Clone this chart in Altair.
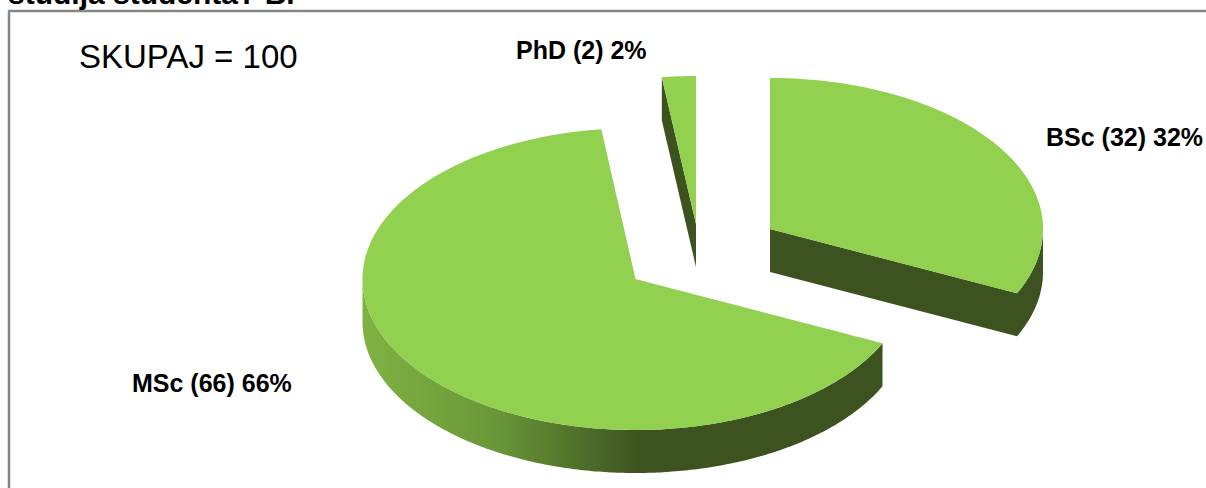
import altair as alt
import numpy as np
import pandas as pd

# Survey results: level of study
levels = ["BSc", "MSc", "PhD"]
counts = [32, 66, 2]
total_label = "SKUPAJ = 100"
heading = "studija studenta? B."

# Layout of the exploded pseudo-3D pie, in page units
W, H = 1206, 488
RX, DEPTH = 273, 43
RY = {"BSc": 151, "MSc": 151, "PhD": 148}
APEX = {"BSc": (770, 229), "MSc": (635.5, 279), "PhD": (696, 224)}
LABEL_POS = {"BSc": (1046, 138), "MSc": (132, 384), "PhD": (516, 51)}

TOP = "#92d050"
DARK = "#3c521f"


def rim(level, a0, a1, n=160):
    """Points along the elliptical rim between two clockwise angles (degrees from north)."""
    cx, cy = APEX[level]
    t = np.radians(np.linspace(a0, a1, n))
    return np.column_stack([cx + RX * np.sin(t), cy - RY[level] * np.cos(t)])


def polygon_to_band(poly, piece):
    """Turn an x-monotone outline into the x / y / y2 rows an area mark needs."""
    poly = np.asarray(poly, dtype=float)
    xs = np.unique(np.round(poly[:, 0], 3))
    closed = np.vstack([poly, poly[0]])
    rows = []
    for x in xs:
        ys = []
        for (x0, y0), (x1, y1) in zip(closed[:-1], closed[1:]):
            lo, hi = min(x0, x1), max(x0, x1)
            if lo - 1e-3 <= x <= hi + 1e-3:
                if abs(x1 - x0) < 1e-6:
                    ys += [y0, y1]
                else:
                    ys.append(y0 + (y1 - y0) * (x - x0) / (x1 - x0))
        rows.append({"piece": piece, "x": float(x), "y": min(ys), "y2": max(ys)})
    return rows


# Slice angles follow directly from the counts, clockwise from north
total = sum(counts)
starts = np.cumsum([0] + counts[:-1]) / total * 360
ends = np.cumsum(counts) / total * 360
span = {lv: (s, e) for lv, s, e in zip(levels, starts, ends)}

top_rows, dark_rows, shaded_rows = [], [], []

for lv in levels:
    a0, a1 = span[lv]
    top_rows += polygon_to_band([APEX[lv], *rim(lv, a0, a1)], lv)

# BSc: cut face and the short stretch of outer wall on the right
a0, a1 = span["BSc"]
end_pt = rim("BSc", a1, a1, 1)[0]
dark_rows += polygon_to_band(
    [APEX["BSc"], end_pt, end_pt + [0, DEPTH], np.array(APEX["BSc"]) + [0, DEPTH]], "bsc-cut"
)
wall = rim("BSc", 90, a1, 40)
dark_rows += polygon_to_band(np.vstack([wall, wall[::-1] + [0, DEPTH]]), "bsc-wall")

# PhD: only its cut face is visible
a0, a1 = span["PhD"]
start_pt = rim("PhD", a0, a0, 1)[0]
dark_rows += polygon_to_band(
    [APEX["PhD"], start_pt, start_pt + [0, DEPTH], np.array(APEX["PhD"]) + [0, DEPTH]], "phd-cut"
)

# MSc: curved outer wall, shaded from left to right
a0, a1 = span["MSc"]
wall = rim("MSc", a0, 270, 240)
shaded_rows += polygon_to_band(np.vstack([wall, wall[::-1] + [0, DEPTH]]), "msc-wall")

x_scale = alt.Scale(domain=[0, W], range=[0, W])
y_scale = alt.Scale(domain=[0, H], range=[0, H])
X = alt.X("x:Q", scale=x_scale, axis=None)
Y = alt.Y("y:Q", scale=y_scale, axis=None)


def area_layer(rows, **mark_kw):
    return (
        alt.Chart(pd.DataFrame(rows))
        .mark_area(**mark_kw)
        .encode(x=X, y=Y, y2="y2:Q", detail="piece:N")
    )


wall_shading = alt.Gradient(
    gradient="linear",
    x1=0, x2=1, y1=0, y2=0,
    stops=[
        alt.GradientStop(color="#80b243", offset=0),
        alt.GradientStop(color="#6a9838", offset=0.25),
        alt.GradientStop(color=DARK, offset=0.54),
        alt.GradientStop(color=DARK, offset=1),
    ],
)

shaded = area_layer(shaded_rows, color=wall_shading)
dark = area_layer(dark_rows, color=DARK)
top = area_layer(top_rows, color=TOP)

# Frame around the plot: left and top edges reach the page bounds
frame_v = (
    alt.Chart(pd.DataFrame({"x": [9], "y": [11], "y2": [H]}))
    .mark_rule(color="#868686", strokeWidth=2.5)
    .encode(x=X, y=Y, y2="y2:Q")
)
frame_h = (
    alt.Chart(pd.DataFrame({"x": [8], "x2": [W], "y": [11]}))
    .mark_rule(color="#868686", strokeWidth=2.5)
    .encode(x=X, x2="x2:Q", y=Y)
)

labels = pd.DataFrame(
    {
        "text": [f"{lv} ({c}) {round(c / total * 100)}%" for lv, c in zip(levels, counts)],
        "x": [LABEL_POS[lv][0] for lv in levels],
        "y": [LABEL_POS[lv][1] for lv in levels],
    }
)
slice_labels = (
    alt.Chart(labels)
    .mark_text(font="Liberation Sans", fontWeight="bold", fontSize=25, align="left",
               baseline="middle", color="#000000")
    .encode(x=X, y=Y, text="text:N")
)

total_text = (
    alt.Chart(pd.DataFrame({"text": [total_label], "x": [79], "y": [68]}))
    .mark_text(font="Liberation Sans", fontSize=33, align="left", baseline="alphabetic",
               color="#000000")
    .encode(x=X, y=Y, text="text:N")
)

heading_text = (
    alt.Chart(pd.DataFrame({"text": [heading], "x": [8], "y": [4]}))
    .mark_text(font="Liberation Sans", fontWeight="bold", fontSize=30, align="left",
               baseline="alphabetic", color="#000000")
    .encode(x=X, y=Y, text="text:N")
)

chart = (
    alt.layer(frame_v, frame_h, shaded, dark, top, slice_labels, total_text, heading_text)
    .properties(width=W, height=H, padding=0, background="#ffffff",
                autosize=alt.AutoSizeParams(type="none"))
    .configure_view(stroke=None)
)

chart.save("out.html", embed_options={"renderer": "svg", "actions": False})
